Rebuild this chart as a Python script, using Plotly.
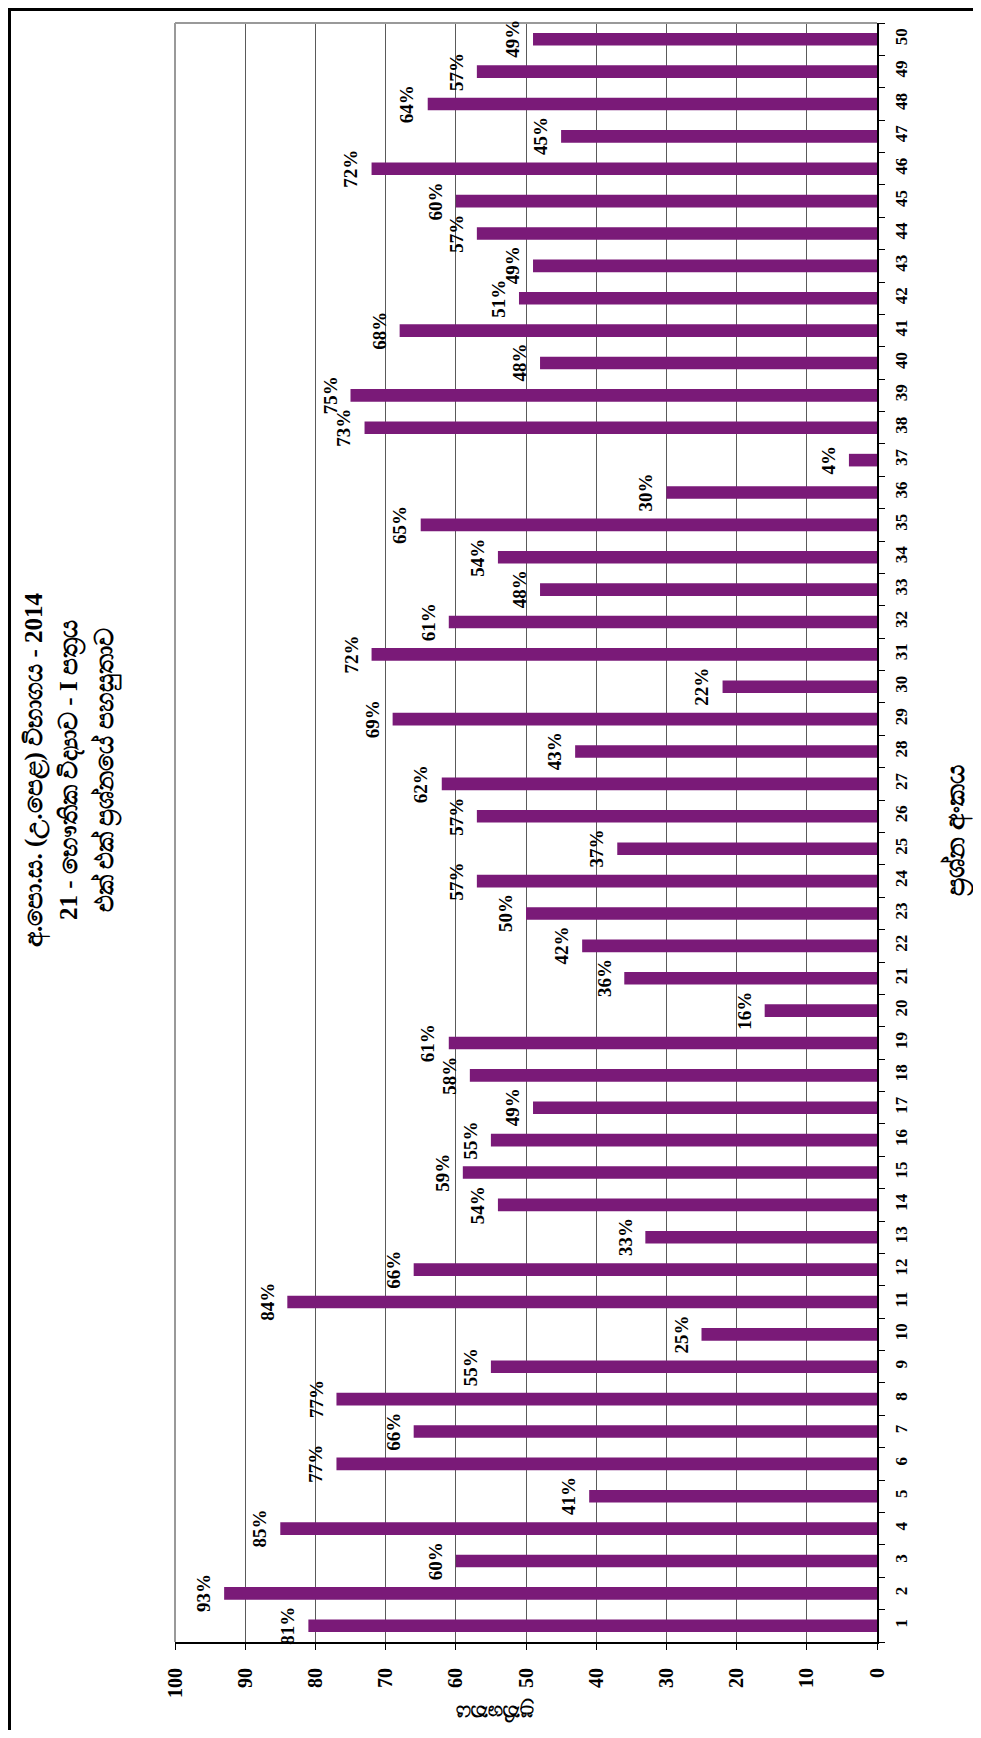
import plotly.graph_objects as go

questions = [str(i) for i in range(1, 51)]
percent = [81, 93, 60, 85, 41, 77, 66, 77, 55, 25,
           84, 66, 33, 54, 59, 55, 49, 58, 61, 16,
           36, 42, 50, 57, 37, 57, 62, 43, 69, 22,
           72, 61, 48, 54, 65, 30, 4, 73, 75, 48,
           68, 51, 49, 57, 60, 72, 45, 64, 57, 49]
x_ticks = list(range(0, 101, 10))
title_lines = ["අ.පො.ස. (උ.පෙළ) විභාගය - 2014",
               "21 - භෞතික විද්‍යාව - I පත්‍රය",
               "එක් එක් ප්‍රශ්නයේ පහසුතාව"]
x_title = "ප්‍රතිශතය"
y_title = "ප්‍රශ්න අංකය"

# page has an 8px body margin; figure sized to fit the 981x1738 window
OFF = 8
W, H = 981 - 2 * OFF, 1738 - 2 * OFF
PL, PR, PT, PB = 175, 877, 23, 1642   # plot area in screen pixels
L, T = PL - OFF, PT - OFF
R, B = W - (PR - OFF), H - (PB - OFF)
pw, ph = W - L - R, H - T - B

def px(x):
    return (x - OFF - L) / pw

def py(y):
    return 1 - (y - OFF - T) / ph

serif = "Liberation Serif, Times New Roman, serif"
purple = "#7A1A78"

fig = go.Figure(go.Bar(
    x=percent, y=questions, orientation="h",
    marker=dict(color=purple, line=dict(width=0)),
    width=0.39, hoverinfo="skip",
))

for idx, v in enumerate(percent):
    fig.add_annotation(x=v, y=idx, xref="x", yref="y", text=f"{v}%",
                       textangle=-90, showarrow=False, xanchor="right",
                       yanchor="middle", xshift=-8,
                       font=dict(family=serif, size=19, color="black", weight="bold"))

title_x = [35, 71, 106]
for tx, line in zip(title_x, title_lines):
    fig.add_annotation(x=px(tx), y=py(770), xref="paper", yref="paper", text=line,
                       textangle=-90, showarrow=False, xanchor="center", yanchor="middle",
                       font=dict(family=serif, size=25, color="black", weight="bold"))

fig.add_annotation(x=px(495), y=py(1712), xref="paper", yref="paper", text=x_title,
                   textangle=180, showarrow=False, xanchor="center", yanchor="middle",
                   font=dict(family=serif, size=21, color="black", weight="bold"))
fig.add_annotation(x=px(957), y=py(830), xref="paper", yref="paper", text=y_title,
                   textangle=-90, showarrow=False, xanchor="center", yanchor="middle",
                   font=dict(family=serif, size=27, color="black", weight="bold"))

# plot-area frame (top and left in gray)
fig.add_shape(type="line", xref="paper", yref="paper", x0=0, x1=1, y0=1, y1=1,
              line=dict(color="#999999", width=2))
fig.add_shape(type="line", xref="paper", yref="paper", x0=0, x1=0, y0=0, y1=1,
              line=dict(color="#999999", width=2))
# outer page border (top and left)
fig.add_shape(type="line", xref="paper", yref="paper", x0=px(OFF), x1=px(OFF + W),
              y0=py(OFF + 1.5), y1=py(OFF + 1.5), line=dict(color="black", width=3))
fig.add_shape(type="line", xref="paper", yref="paper", x0=px(OFF + 1.5), x1=px(OFF + 1.5),
              y0=py(OFF), y1=py(OFF + H), line=dict(color="black", width=3))

fig.update_layout(
    width=W, height=H,
    margin=dict(l=L, r=R, t=T, b=B),
    paper_bgcolor="white", plot_bgcolor="white",
    showlegend=False,
    xaxis=dict(range=[100, 0], tickvals=x_ticks, ticktext=[str(t) for t in x_ticks],
               tickangle=-90, ticks="outside", ticklen=6, tickcolor="black",
               ticklabelstandoff=10,
               tickfont=dict(family=serif, size=20, color="black", weight="bold"),
               showgrid=True, gridcolor="#5a5a5a", gridwidth=1,
               showline=True, linecolor="black", linewidth=2, zeroline=False),
    yaxis=dict(type="category", categoryorder="array", categoryarray=questions,
               range=[-0.5, 49.5], side="right", tickangle=-90,
               ticks="outside", ticklen=6, tickcolor="black", tickson="boundaries",
               ticklabelstandoff=8,
               tickfont=dict(family=serif, size=17, color="black", weight="bold"),
               showgrid=False, showline=True, linecolor="black", linewidth=1.5,
               zeroline=False),
)

fig.write_html("out.html")
